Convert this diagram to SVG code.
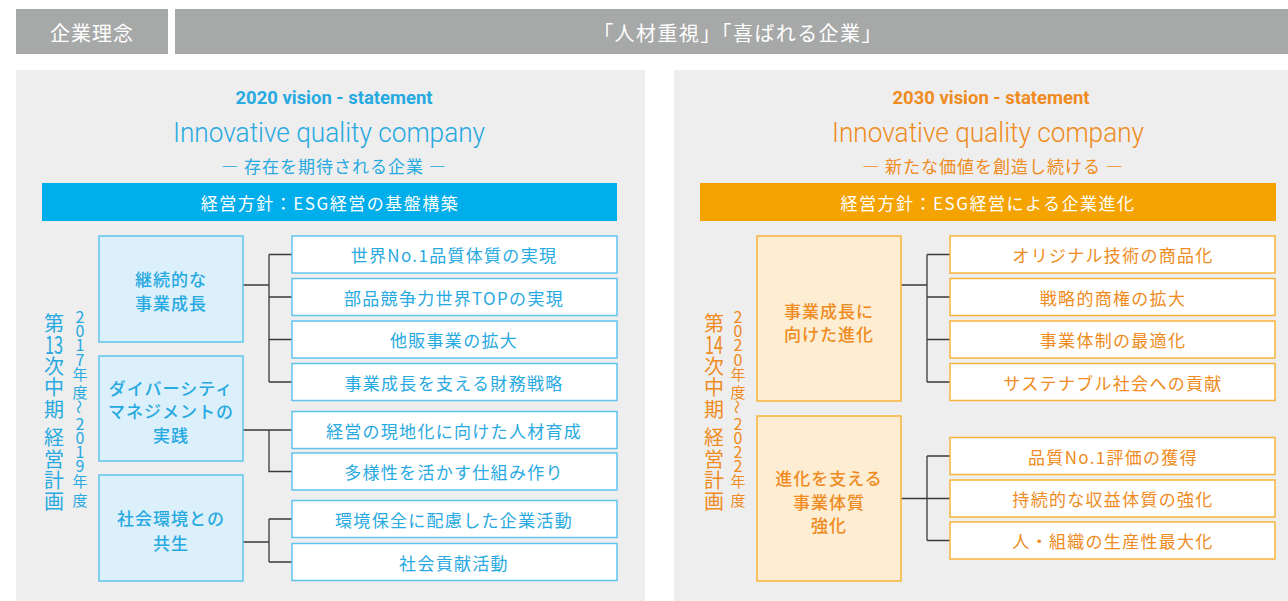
<svg xmlns="http://www.w3.org/2000/svg" width="1288" height="601" viewBox="0 0 1288 601">
  <style>
    .jp { font-family: "Noto Sans CJK JP", "Noto Sans", sans-serif; }
    .lat { font-family: Roboto, "Liberation Sans", sans-serif; }
    .mid { text-anchor: middle; dominant-baseline: central; }
    .bar-top { fill: #a7a8a8; }
    .panel { fill: #eeeeee; }
    .blue { fill: #27a9e1; }
    .orange { fill: #ef8b20; }
    .white { fill: #ffffff; }
    .leaf-b { fill: #ffffff; stroke: #62c4ee; stroke-width: 1.5; }
    .par-b { fill: #dcf0fb; stroke: #62c4ee; stroke-width: 1.5; }
    .leaf-o { fill: #ffffff; stroke: #f7b43c; stroke-width: 1.5; }
    .par-o { fill: #fdedd3; stroke: #f7b43c; stroke-width: 1.5; }
    .leaf-t { font-size: 17px; letter-spacing: 1.3px; }
    .par-t { font-size: 17px; letter-spacing: 1px; font-weight: 500; }
    .big { font-size: 20px; }
    .small { font-size: 16px; }
    .conn { fill: none; stroke: #3a3a3a; stroke-width: 1.3; }
  </style>

  <rect width="1288" height="601" fill="#ffffff"/>

  <!-- corporate philosophy header -->
  <g id="philosophy">
    <rect class="bar-top" x="16" y="9" width="152" height="45"/>
    <rect class="bar-top" x="175" y="9" width="1113" height="45"/>
    <text class="jp mid white" x="92" y="32" font-size="20" letter-spacing="1">企業理念</text>
    <text class="jp mid white" x="738" y="32" font-size="20" letter-spacing="1.4">「人材重視」「喜ばれる企業」</text>
  </g>

  <!-- background panels -->
  <rect class="panel" x="16" y="70" width="629" height="531"/>
  <rect class="panel" x="674" y="70" width="614" height="531"/>

  <!-- 2020 vision -->
  <g id="vision-2020">
    <text class="lat blue" x="334" y="104" font-size="19" font-weight="700" text-anchor="middle" textLength="197" lengthAdjust="spacingAndGlyphs">2020 vision - statement</text>
    <text class="lat blue" x="329" y="142" font-size="28" font-weight="300" text-anchor="middle" textLength="312" lengthAdjust="spacingAndGlyphs">Innovative quality company</text>
    <text class="jp mid blue" x="334" y="165" font-size="17" letter-spacing="1">― 存在を期待される企業 ―</text>
    <rect x="42" y="183" width="575" height="38" fill="#00aeec"/>
    <text class="jp mid white" x="330" y="202" font-size="17" letter-spacing="1.5">経営方針：ESG経営の基盤構築</text>
  </g>

  <!-- 2030 vision -->
  <g id="vision-2030">
    <text class="lat orange" x="991" y="104" font-size="19" font-weight="700" text-anchor="middle" textLength="197" lengthAdjust="spacingAndGlyphs">2030 vision - statement</text>
    <text class="lat orange" x="988" y="142" font-size="28" font-weight="300" text-anchor="middle" textLength="312" lengthAdjust="spacingAndGlyphs">Innovative quality company</text>
    <text class="jp mid orange" x="993" y="165" font-size="17" letter-spacing="1">― 新たな価値を創造し続ける ―</text>
    <rect x="700" y="183" width="576" height="38" fill="#f5a300"/>
    <text class="jp mid white" x="988" y="202" font-size="17" letter-spacing="1.5">経営方針：ESG経営による企業進化</text>
  </g>

  <!-- 13th mid-term plan label (vertical) -->
  <g id="plan-13" class="jp mid blue">
    <text class="big"><tspan x="54" y="321.5">第</tspan><tspan x="54" y="342.5" font-size="24" textLength="18" lengthAdjust="spacingAndGlyphs">13</tspan><tspan x="54" y="364.5">次</tspan><tspan x="54" y="386">中</tspan><tspan x="54" y="408">期</tspan><tspan x="54" y="436">経</tspan><tspan x="54" y="457.5">営</tspan><tspan x="54" y="479">計</tspan><tspan x="54" y="499.5">画</tspan></text>
    <text class="small"><tspan x="80" y="315.5">2</tspan><tspan x="80" y="330">0</tspan><tspan x="80" y="344">1</tspan><tspan x="80" y="358.5">7</tspan><tspan x="80" y="373" font-size="15">年</tspan><tspan x="80" y="391" font-size="15">度</tspan><tspan x="80" y="422.5">2</tspan><tspan x="80" y="436.5">0</tspan><tspan x="80" y="451">1</tspan><tspan x="80" y="465">9</tspan><tspan x="80" y="480" font-size="15">年</tspan><tspan x="80" y="499" font-size="15">度</tspan></text>
    <text x="80" y="407" font-size="14" transform="rotate(90 80 407)">〜</text>
  </g>

  <!-- 14th mid-term plan label (vertical) -->
  <g id="plan-14" class="jp mid orange">
    <text class="big"><tspan x="714" y="321.5">第</tspan><tspan x="714" y="342.5" font-size="24" textLength="18" lengthAdjust="spacingAndGlyphs">14</tspan><tspan x="714" y="364.5">次</tspan><tspan x="714" y="386">中</tspan><tspan x="714" y="408">期</tspan><tspan x="714" y="436">経</tspan><tspan x="714" y="457.5">営</tspan><tspan x="714" y="479">計</tspan><tspan x="714" y="499.5">画</tspan></text>
    <text class="small"><tspan x="738" y="315.5">2</tspan><tspan x="738" y="330">0</tspan><tspan x="738" y="344">2</tspan><tspan x="738" y="358.5">0</tspan><tspan x="738" y="373" font-size="15">年</tspan><tspan x="738" y="391" font-size="15">度</tspan><tspan x="738" y="422.5">2</tspan><tspan x="738" y="436.5">0</tspan><tspan x="738" y="451">2</tspan><tspan x="738" y="465">2</tspan><tspan x="738" y="480" font-size="15">年</tspan><tspan x="738" y="499" font-size="15">度</tspan></text>
    <text x="738" y="407" font-size="14" transform="rotate(90 738 407)">〜</text>
  </g>

  <!-- connectors -->
  <g id="connectors" class="conn">
    <path d="M243 285H269M269 254.5V382M269 254.5H292M269 297H292M269 339.5H292M269 382H292"/>
    <path d="M243 430H292M269 430V471.5H292"/>
    <path d="M243 542H269M269 519V562M269 519H292M269 562H292"/>
    <path d="M901 285H927M927 254.5V382M927 254.5H950M927 297H950M927 339.5H950M927 382H950"/>
    <path d="M901 498.5H950M927 456V540.5M927 456H950M927 540.5H950"/>
  </g>

  <!-- 2020 themes -->
  <g id="growth-2020">
    <rect class="par-b" x="99" y="236" width="144" height="106"/>
    <text class="jp mid blue par-t" x="171" y="278">継続的な</text>
    <text class="jp mid blue par-t" x="171" y="302">事業成長</text>
  </g>
  <g id="diversity-2020">
    <rect class="par-b" x="99" y="356" width="144" height="105"/>
    <text class="jp mid blue par-t" x="171" y="387">ダイバーシティ</text>
    <text class="jp mid blue par-t" x="171" y="410.5">マネジメントの</text>
    <text class="jp mid blue par-t" x="171" y="434">実践</text>
  </g>
  <g id="society-2020">
    <rect class="par-b" x="99" y="475" width="144" height="106"/>
    <text class="jp mid blue par-t" x="171" y="517">社会環境との</text>
    <text class="jp mid blue par-t" x="171" y="542">共生</text>
  </g>

  <!-- 2020 initiatives -->
  <g id="quality-2020">
    <rect class="leaf-b" x="292" y="236" width="325" height="37"/>
    <text class="jp mid blue leaf-t" x="454" y="254.5">世界No.1品質体質の実現</text>
  </g>
  <g id="parts-2020">
    <rect class="leaf-b" x="292" y="278.5" width="325" height="37"/>
    <text class="jp mid blue leaf-t" x="454" y="297">部品競争力世界TOPの実現</text>
  </g>
  <g id="sales-2020">
    <rect class="leaf-b" x="292" y="321" width="325" height="37"/>
    <text class="jp mid blue leaf-t" x="454" y="339.5">他販事業の拡大</text>
  </g>
  <g id="finance-2020">
    <rect class="leaf-b" x="292" y="363.5" width="325" height="37"/>
    <text class="jp mid blue leaf-t" x="454" y="382">事業成長を支える財務戦略</text>
  </g>
  <g id="localize-2020">
    <rect class="leaf-b" x="292" y="411.5" width="325" height="37"/>
    <text class="jp mid blue leaf-t" x="454" y="430">経営の現地化に向けた人材育成</text>
  </g>
  <g id="inclusion-2020">
    <rect class="leaf-b" x="292" y="453" width="325" height="37"/>
    <text class="jp mid blue leaf-t" x="454" y="471.5">多様性を活かす仕組み作り</text>
  </g>
  <g id="environment-2020">
    <rect class="leaf-b" x="292" y="500.5" width="325" height="37"/>
    <text class="jp mid blue leaf-t" x="454" y="519">環境保全に配慮した企業活動</text>
  </g>
  <g id="contribution-2020">
    <rect class="leaf-b" x="292" y="543.5" width="325" height="37"/>
    <text class="jp mid blue leaf-t" x="454" y="562">社会貢献活動</text>
  </g>

  <!-- 2030 themes -->
  <g id="growth-2030">
    <rect class="par-o" x="757" y="236" width="144" height="165"/>
    <text class="jp mid orange par-t" x="829" y="310">事業成長に</text>
    <text class="jp mid orange par-t" x="829" y="333">向けた進化</text>
  </g>
  <g id="foundation-2030">
    <rect class="par-o" x="757" y="416" width="144" height="165"/>
    <text class="jp mid orange par-t" x="829" y="477">進化を支える</text>
    <text class="jp mid orange par-t" x="829" y="501">事業体質</text>
    <text class="jp mid orange par-t" x="829" y="524">強化</text>
  </g>

  <!-- 2030 initiatives -->
  <g id="original-2030">
    <rect class="leaf-o" x="950" y="236" width="325" height="37"/>
    <text class="jp mid orange leaf-t" x="1113" y="254.5">オリジナル技術の商品化</text>
  </g>
  <g id="commercial-2030">
    <rect class="leaf-o" x="950" y="278.5" width="325" height="37"/>
    <text class="jp mid orange leaf-t" x="1113" y="297">戦略的商権の拡大</text>
  </g>
  <g id="structure-2030">
    <rect class="leaf-o" x="950" y="321" width="325" height="37"/>
    <text class="jp mid orange leaf-t" x="1113" y="339.5">事業体制の最適化</text>
  </g>
  <g id="sustainable-2030">
    <rect class="leaf-o" x="950" y="363.5" width="325" height="37"/>
    <text class="jp mid orange leaf-t" x="1113" y="382">サステナブル社会への貢献</text>
  </g>
  <g id="rating-2030">
    <rect class="leaf-o" x="950" y="437.5" width="325" height="37"/>
    <text class="jp mid orange leaf-t" x="1113" y="456">品質No.1評価の獲得</text>
  </g>
  <g id="profit-2030">
    <rect class="leaf-o" x="950" y="480" width="325" height="37"/>
    <text class="jp mid orange leaf-t" x="1113" y="498.5">持続的な収益体質の強化</text>
  </g>
  <g id="productivity-2030">
    <rect class="leaf-o" x="950" y="522" width="325" height="37"/>
    <text class="jp mid orange leaf-t" x="1113" y="540.5">人・組織の生産性最大化</text>
  </g>
</svg>
